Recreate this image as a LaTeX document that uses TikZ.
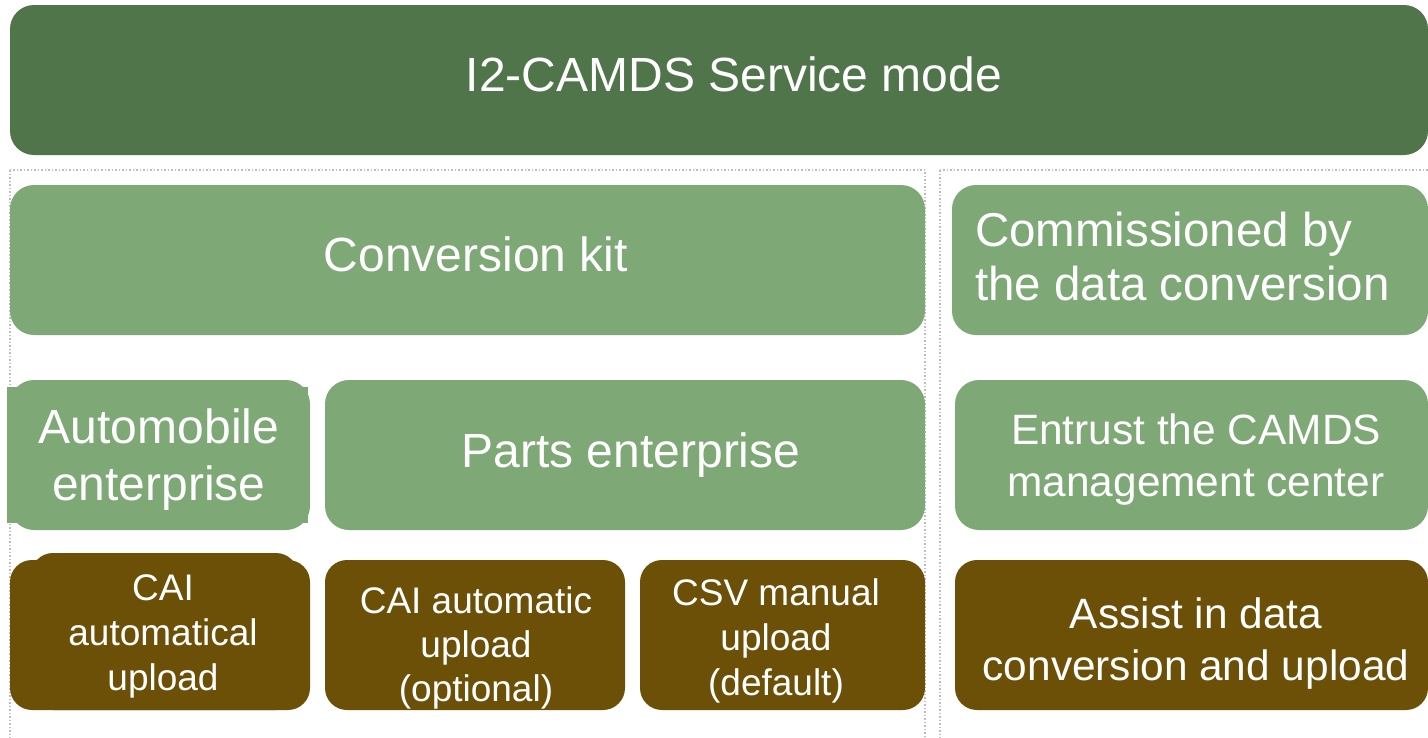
\documentclass[tikz,border=0pt]{standalone}
\usepackage{fontspec}
\setmainfont{Liberation Sans}
\definecolor{darkgreen}{HTML}{50754A}
\definecolor{lightgreen}{HTML}{7EA876}
\definecolor{brownbox}{HTML}{6D5008}
\definecolor{dotgray}{HTML}{BDBDBD}
\begin{document}
\begin{tikzpicture}[x=1pt,y=-1pt,
  panel/.style={draw=dotgray,line width=1.5pt,dotted},
  box/.style={rounded corners=24pt,inner sep=0pt,outer sep=0pt,minimum height=150pt},
  headbox/.style={box,fill=darkgreen},
  greenbox/.style={box,fill=lightgreen},
  brownbox/.style={box,fill=brownbox,rounded corners=22pt},
  label/.style={inner sep=0pt,outer sep=0pt,text=white,align=center,anchor=base},
  big/.style={label,font=\fontsize{48}{55}\selectfont},
  mid/.style={label,font=\fontsize{42.4}{51.5}\selectfont},
  small/.style={label,font=\fontsize{37}{45}\selectfont}]
\useasboundingbox (0,0) rectangle (1428,737);
% panels
\draw[panel] (10,170) rectangle (925,745);
\draw[panel] (940,170) rectangle (1440,745);
% boxes
\node[headbox,minimum width=1418pt] (head) at (719,80) {};
\node[greenbox,minimum width=915pt] (conv) at (467.5,260) {};
\node[greenbox,minimum width=476pt] (comm) at (1190,260) {};
\fill[lightgreen] (7,387) rectangle (308,523);
\node[greenbox,minimum width=300pt] (auto) at (160,455) {};
\node[greenbox,minimum width=600pt] (parts) at (625,455) {};
\node[greenbox,minimum width=473pt] (entrust) at (1191.5,455) {};
\fill[brownbox] (31,553) rectangle (298,710);
\node[brownbox,minimum width=300pt] (cai1) at (160,635) {};
\node[brownbox,minimum width=300pt] (cai2) at (475,635) {};
\node[brownbox,minimum width=285pt] (csv) at (782.5,635) {};
\node[brownbox,minimum width=473pt] (assist) at (1191.5,635) {};
% texts (base anchor = baseline of the last line)
\node[big] (headtext) at (734,91) {I2-CAMDS Service mode};
\node[big] (convtext) at (476,271) {Conversion kit};
\node[big,align=left,anchor=base west,font=\fontsize{47.5}{54}\selectfont] (commtext) at (975,300) {Commissioned by\\the data conversion};
\node[big,font=\fontsize{48}{57}\selectfont] (autotext) at (159,500) {Automobile\\enterprise};
\node[big] (partstext) at (631,467) {Parts enterprise};
\node[mid] (entrusttext) at (1196,496) {Entrust the CAMDS\\management center};
\node[small] (cai1text) at (163,690) {CAI\\automatical\\upload};
\node[small,font=\fontsize{37}{44}\selectfont] (cai2text) at (476,701) {CAI automatic\\upload\\(optional)};
\node[small] (csvtext) at (776,695) {CSV manual\\upload\\(default)};
\node[mid,font=\fontsize{42.4}{52}\selectfont] (assisttext) at (1196,680) {Assist in data\\conversion and upload};
\end{tikzpicture}
\end{document}
